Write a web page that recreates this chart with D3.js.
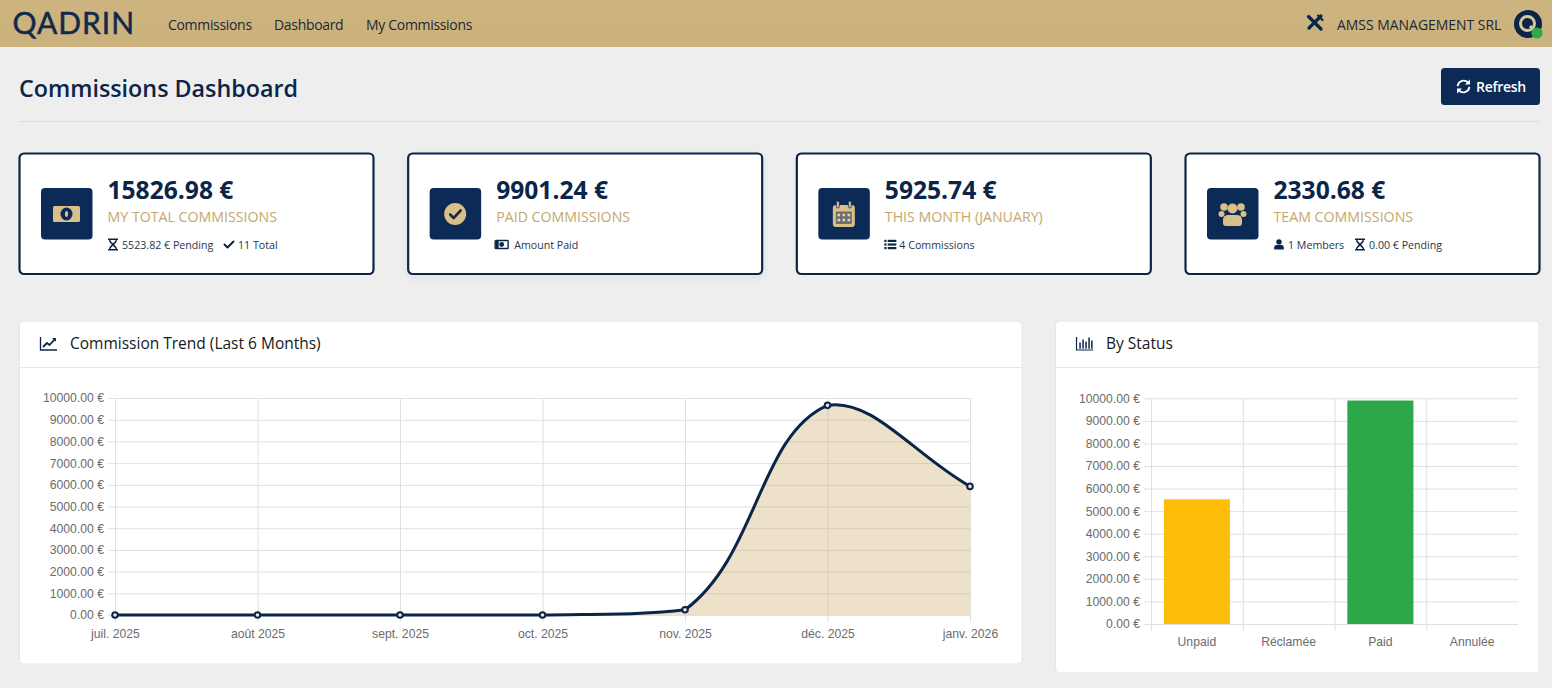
<!DOCTYPE html>
<html lang="fr">
<head>
<meta charset="utf-8">
<title>Commissions Dashboard</title>
<script src="https://cdn.jsdelivr.net/npm/d3@7"></script>
<style>
html,body{margin:0;padding:0;background:#eeeeee;overflow:hidden}
svg{display:block}
text{font-family:"Open Sans","Noto Sans",sans-serif}
.chartText text{font-family:"Liberation Sans",Arial,sans-serif;font-size:12.2px;fill:#6b6b6b}
</style>
</head>
<body>
<svg id="page" width="1552" height="688"></svg>
<script>
// ---------- data ----------
const navLinks = ["Commissions", "Dashboard", "My Commissions"];
const cardValues = ["15826.98 €", "9901.24 €", "5925.74 €", "2330.68 €"];
const cardLabels = ["MY TOTAL COMMISSIONS", "PAID COMMISSIONS", "THIS MONTH (JANUARY)", "TEAM COMMISSIONS"];
const cardIcons = ["money", "checkCircle", "calendar", "users"];
const cardNotes = [
  [["hourglass", "5523.82 € Pending"], ["check", "11 Total"]],
  [["moneySmall", "Amount Paid"]],
  [["list", "4 Commissions"]],
  [["user", "1 Members"], ["hourglass", "0.00 € Pending"]]
];
const trendMonths = ["juil. 2025", "août 2025", "sept. 2025", "oct. 2025", "nov. 2025", "déc. 2025", "janv. 2026"];
const trendValues = [0, 0, 0, 0, 240, 9661.24, 5925.74];
const statusLabels = ["Unpaid", "Réclamée", "Paid", "Annulée"];
const statusValues = [5523.82, 0, 9901.24, 0];
const statusColors = ["#fdbd08", "#e0e0e0", "#2ea64a", "#e0e0e0"];
const valueTicks = [0, 1000, 2000, 3000, 4000, 5000, 6000, 7000, 8000, 9000, 10000];

// ---------- palette ----------
const navy = "#0b2548", navyBox = "#0c2a56", gold = "#c4a76c", tan = "#d9bf8a", gridColor = "#e0e0e0";
const svg = d3.select("#page");

// ---------- defs ----------
const defs = svg.append("defs");
const navGrad = defs.append("linearGradient").attr("id", "navGrad").attr("x1", 0).attr("x2", 0).attr("y1", 0).attr("y2", 1);
navGrad.append("stop").attr("offset", 0).attr("stop-color", "#cdb480");
navGrad.append("stop").attr("offset", 1).attr("stop-color", "#cbb27c");
const shadow = defs.append("filter").attr("id", "soft").attr("x", "-5%").attr("y", "-15%").attr("width", "110%").attr("height", "130%");
shadow.append("feDropShadow").attr("dx", 0).attr("dy", 3).attr("stdDeviation", 5).attr("flood-color", "#000").attr("flood-opacity", 0.05);

// ---------- icons ----------
function icon(g, name, x, y, s, color, bg) {
  const n = g.append("g").attr("transform", `translate(${x},${y}) scale(${s})`);
  const P = (d) => n.append("path").attr("d", d).attr("fill", color);
  const S = (d, w) => n.append("path").attr("d", d).attr("fill", "none").attr("stroke", color).attr("stroke-width", w).attr("stroke-linecap", "round").attr("stroke-linejoin", "round");
  if (name === "money") {
    n.append("rect").attr("x", -13.5).attr("y", -8).attr("width", 27).attr("height", 16).attr("rx", 1.5).attr("fill", color);
    n.append("ellipse").attr("rx", 6).attr("ry", 6.5).attr("fill", bg);
    n.append("ellipse").attr("rx", 1.6).attr("ry", 3).attr("fill", color);
  } else if (name === "checkCircle") {
    n.append("circle").attr("r", 11).attr("fill", color);
    S("M-5,0.5 L-1.5,4 L5.5,-3.5", 2.6).attr("stroke", "#1f2a3a");
  } else if (name === "calendar") {
    n.append("rect").attr("x", -11).attr("y", -9).attr("width", 22).attr("height", 22).attr("rx", 3).attr("fill", color);
    n.append("rect").attr("x", -8).attr("y", -2.5).attr("width", 16).attr("height", 12.5).attr("rx", 1).attr("fill", "#0c2a56").attr("fill-opacity", .55);
    [-6, 6].forEach(c => { n.append("rect").attr("x", c - 1.5).attr("y", -13).attr("width", 3).attr("height", 7).attr("rx", 1.5).attr("fill", color).attr("stroke", bg).attr("stroke-width", .8); });
    [-5, 0, 5].forEach(cx => [1, 6].forEach(cy => n.append("rect").attr("x", cx - 1.3).attr("y", cy - 1.3).attr("width", 2.6).attr("height", 2.6).attr("fill", "#e6d3a8")));
  } else if (name === "users") {
    [[-8.5, -7, 3.8], [8.5, -7, 3.8], [-11, 0, 3], [11, 0, 3], [0, -5.5, 5]].forEach(c => n.append("circle").attr("cx", c[0]).attr("cy", c[1]).attr("r", c[2]).attr("fill", color));
    P("M-9.5,9 Q-9.5,12 -6.5,12 H6.5 Q9.5,12 9.5,9 V6 Q9.5,1 4,1 H-4 Q-9.5,1 -9.5,6 Z");
  } else if (name === "hourglass") {
    P("M-5,-6 H5 V-4.6 H4 C4,-2 1.6,-1 1.2,0 C1.6,1 4,2 4,4.6 H5 V6 H-5 V4.6 H-4 C-4,2 -1.6,1 -1.2,0 C-1.6,-1 -4,-2 -4,-4.6 H-5 Z");
    n.append("path").attr("d", "M-2.6,-4.6 H2.6 C2.4,-3 0.6,-2 0,-1.2 C-0.6,-2 -2.4,-3 -2.6,-4.6 Z M-2.6,4.6 C-2.4,3 -0.6,2 0,1.2 C0.6,2 2.4,3 2.6,4.6 Z").attr("fill", "#fff");
  } else if (name === "check") {
    S("M-4.5,0 L-1.5,3 L4.5,-3", 2);
  } else if (name === "moneySmall") {
    n.append("rect").attr("x", -6.5).attr("y", -4).attr("width", 13).attr("height", 8).attr("rx", .8).attr("fill", "none").attr("stroke", color).attr("stroke-width", 1.4);
    n.append("circle").attr("r", 2.4).attr("fill", color);
    n.append("rect").attr("x", -6).attr("y", -3.5).attr("width", 3).attr("height", 7).attr("fill", color);
  } else if (name === "list") {
    [-3.6, 0, 3.6].forEach(c => {
      n.append("rect").attr("x", -6).attr("y", c - 1.1).attr("width", 2.2).attr("height", 2.2).attr("fill", color);
      n.append("rect").attr("x", -2.6).attr("y", c - 1.1).attr("width", 8.6).attr("height", 2.2).attr("fill", color);
    });
  } else if (name === "user") {
    n.append("circle").attr("cy", -2.6).attr("r", 2.7).attr("fill", color);
    P("M-4.8,5 V3 Q-4.8,0.6 -2.4,0.6 H2.4 Q4.8,0.6 4.8,3 V5 Z");
  } else if (name === "tools") {
    S("M-6,-6 L6,6", 3.2); S("M6,-7 L-6,5", 3.2);
    S("M3,-7.5 L7.5,-3", 2.2);
    n.append("circle").attr("cx", -6.5).attr("cy", -6.5).attr("r", 1.6).attr("fill", color);
  } else if (name === "sync") {
    S("M-5.5,-1 A5.8,5.8 0 0 1 4.5,-3.6", 1.8); S("M5.5,1 A5.8,5.8 0 0 1 -4.5,3.6", 1.8);
    P("M6.2,-6.6 V-1.8 H1.4 Z"); P("M-6.2,6.6 V1.8 H-1.4 Z");
  } else if (name === "chartLine") {
    n.append("path").attr("d", "M-8,-6.5 V6.5 H8.5").attr("fill", "none").attr("stroke", color).attr("stroke-width", 1.3);
    S("M-5,3 L-1.5,-0.5 L1,1.5 L6,-4", 1.8);
    P("M3.6,-5.6 H7.4 V-1.8 Z");
  } else if (name === "chartBar") {
    n.append("path").attr("d", "M-8,-6.5 V6.5 H8.5").attr("fill", "none").attr("stroke", color).attr("stroke-width", 1.2);
    [[-5.2, -1], [-2.2, -4], [0.8, -2], [3.8, -6], [6.6, -3]].forEach(c => n.append("rect").attr("x", c[0]).attr("y", c[1]).attr("width", 1.5).attr("height", 5.2 - c[1]).attr("fill", color));
  }
  return n;
}

// ---------- nav bar ----------
svg.append("rect").attr("width", 1552).attr("height", 47).attr("fill", "url(#navGrad)");
svg.append("text").attr("x", 12.5).attr("y", 34).attr("font-size", 30).attr("letter-spacing", 1)
  .attr("stroke", "#12294d").attr("stroke-width", 0.5)
  .style("font-family", "Lato,sans-serif").attr("fill", "#12294d").text("QADRIN");
const navX = d3.scaleOrdinal().domain(navLinks).range([168, 274, 366]);
svg.append("g").selectAll("text").data(navLinks).join("text")
  .attr("x", d => navX(d)).attr("y", 29.5).attr("font-size", 14).attr("letter-spacing", -0.32).attr("fill", "#1c2634").text(d => d);
icon(svg, "tools", 1315, 23, 1, navy);
svg.append("text").attr("x", 1337).attr("y", 29.5).attr("font-size", 13.95).attr("fill", "#1c2634").text("AMSS MANAGEMENT SRL");
svg.append("circle").attr("cx", 1528).attr("cy", 24).attr("r", 14).attr("fill", navy);
svg.append("circle").attr("cx", 1527.5).attr("cy", 23.5).attr("r", 7).attr("fill", "none").attr("stroke", "#d8c69a").attr("stroke-width", 3);
svg.append("path").attr("d", d3.line()([[1530, 26], [1536, 33]])).attr("stroke", "#d8c69a").attr("stroke-width", 3);
svg.append("circle").attr("cx", 1537).attr("cy", 33).attr("r", 5.6).attr("fill", "#2ea84a");

// ---------- page header ----------
svg.append("text").attr("x", 19).attr("y", 96.5).attr("font-size", 23.3).attr("font-weight", 600).attr("fill", navy).text("Commissions Dashboard");
svg.append("rect").attr("x", 1441).attr("y", 68).attr("width", 99).attr("height", 37).attr("rx", 3.5).attr("fill", navyBox);
icon(svg, "sync", 1463.5, 86.5, 1.05, "#fff");
svg.append("text").attr("x", 1476).attr("y", 92).attr("font-size", 14).attr("letter-spacing", -0.3).attr("font-weight", 600).attr("fill", "#fff").text("Refresh");
svg.append("line").attr("x1", 19).attr("x2", 1540).attr("y1", 121.5).attr("y2", 121.5).attr("stroke", "#dddddd");

// ---------- KPI cards ----------
const cardX = d3.scalePoint().domain(d3.range(4)).range([19.5, 1185.5]);
const noteOffsets = [[0, 116], [0], [0], [0, 81]];
const cards = svg.append("g").selectAll("g").data(cardValues).join("g").attr("transform", (d, i) => `translate(${cardX(i)},153.5)`);
cards.append("rect").attr("width", 354).attr("height", 120.5).attr("rx", 4.5).attr("fill", "#fff").attr("stroke", navy).attr("stroke-width", 2.2).attr("filter", (d, i) => i === 1 ? "url(#soft)" : null);
cards.append("rect").attr("x", 21.5).attr("y", 34.5).attr("width", 51.5).attr("height", 51.5).attr("rx", 4).attr("fill", navyBox);
cards.each(function (d, i) {
  const g = d3.select(this);
  icon(g, cardIcons[i], 47, 60.5, 1, tan, navyBox);
  g.append("text").attr("x", 88).attr("y", 45.5).attr("font-size", 24.6).attr("font-weight", 700).attr("fill", navy).text(d);
  g.append("text").attr("x", 88).attr("y", 68).attr("font-size", 14.2).attr("fill", gold).text(cardLabels[i]);
  cardNotes[i].forEach((nt, j) => {
    const ox = 88 + noteOffsets[i][j];
    icon(g, nt[0], ox + 5.5, 91, 1, navy);
    g.append("text").attr("x", ox + (nt[0] === "moneySmall" ? 18 : 14.5)).attr("y", 95).attr("font-size", 10.65).attr("fill", "#26364a").text(nt[1]);
  });
});

// ---------- panels ----------
function panel(x, w, h, title, ic) {
  const g = svg.append("g").attr("transform", `translate(${x},321)`);
  g.append("rect").attr("width", w).attr("height", h).attr("rx", 4).attr("fill", "#fff").attr("stroke", "#e6e6e6");
  g.append("line").attr("x1", 0).attr("x2", w).attr("y1", 46.5).attr("y2", 46.5).attr("stroke", "#e6e6e6");
  icon(g, ic, 29, 22.5, 1, navy);
  g.append("text").attr("x", 50.5).attr("y", 28).attr("font-size", 15.5).attr("font-weight", 500).attr("fill", "#16181c").text(title);
}
panel(19.5, 1002.5, 343, "Commission Trend (Last 6 Months)", "chartLine");
panel(1055.5, 483.5, 352, "By Status", "chartBar");

// Chart.js-style spline as a d3 curve factory: tension 0.4, control points capped to the plot area
function splineCurve(top, bottom) {
  return function (ctx) {
    let pts, mode;
    const t = 0.4;
    const cap = v => Math.max(top, Math.min(bottom, v));
    return {
      areaStart() { mode = 0; },
      areaEnd() { mode = NaN; },
      lineStart() { pts = []; },
      point(x, y) { pts.push([+x, +y]); },
      lineEnd() {
        if (mode === 1) ctx.lineTo(pts[0][0], pts[0][1]); else ctx.moveTo(pts[0][0], pts[0][1]);
        const ctrl = pts.map((p, i) => {
          const a = pts[i - 1] || p, b = pts[i + 1] || p;
          const d01 = Math.hypot(p[0] - a[0], p[1] - a[1]), d12 = Math.hypot(b[0] - p[0], b[1] - p[1]);
          const sum = d01 + d12 || 1;
          const fa = t * d01 / sum, fb = t * d12 / sum;
          return {
            prev: [p[0] - fa * (b[0] - a[0]), cap(p[1] - fa * (b[1] - a[1]))],
            next: [p[0] + fb * (b[0] - a[0]), cap(p[1] + fb * (b[1] - a[1]))]
          };
        });
        for (let i = 1; i < pts.length; i++) ctx.bezierCurveTo(ctrl[i - 1].next[0], ctrl[i - 1].next[1], ctrl[i].prev[0], ctrl[i].prev[1], pts[i][0], pts[i][1]);
        if (mode === 1) ctx.closePath();
        mode = 1 - mode;
      }
    };
  };
}

function valueAxis(root, y, left, right) {
  const fmt = d => d3.format(".2f")(d) + " €";
  const ya = root.append("g").attr("transform", `translate(${left},0)`)
    .call(d3.axisLeft(y).tickValues(valueTicks).tickFormat(fmt).tickSize(7).tickPadding(4));
  ya.select(".domain").remove();
  ya.selectAll("line").attr("stroke", gridColor).attr("x2", right - left).attr("x1", -7);
  return ya;
}

// ---------- trend chart ----------
const tLeft = 115, tRight = 970, tTop = 398, tBase = 615;
const tx = d3.scalePoint().domain(trendMonths).range([tLeft, tRight]);
const ty = d3.scaleLinear().domain([0, 10000]).range([tBase, tTop]);
const trend = svg.append("g").attr("class", "chartText");
const tGrid = trend.append("g").attr("transform", `translate(0,${tBase})`)
  .call(d3.axisBottom(tx).tickSize(7).tickPadding(7));
tGrid.select(".domain").remove();
tGrid.selectAll("line").attr("stroke", gridColor).attr("y1", tTop - tBase).attr("y2", 7);
valueAxis(trend, ty, tLeft, tRight);
const trendRows = trendMonths.map((m, i) => ({ m, v: trendValues[i] }));
const trendCurve = splineCurve(tTop, tBase);
trend.append("path").datum(trendRows).attr("fill", "#c8a55f").attr("fill-opacity", 0.33)
  .attr("d", d3.area().x(d => tx(d.m)).y0(tBase).y1(d => ty(d.v)).curve(trendCurve));
trend.append("path").datum(trendRows).attr("fill", "none").attr("stroke", navy).attr("stroke-width", 3)
  .attr("d", d3.line().x(d => tx(d.m)).y(d => ty(d.v)).curve(trendCurve));
trend.append("g").selectAll("circle").data(trendRows).join("circle")
  .attr("cx", d => tx(d.m)).attr("cy", d => ty(d.v)).attr("r", 2.8)
  .attr("fill", "#dfe6ee").attr("stroke", navy).attr("stroke-width", 2);

// ---------- status chart ----------
const sLeft = 1151, sRight = 1518, sTop = 398.3, sBase = 624;
const sx = d3.scaleBand().domain(statusLabels).range([sLeft, sRight]).paddingInner(0.28).paddingOuter(0.14);
const sy = d3.scaleLinear().domain([0, 10000]).range([sBase, sTop]);
const status = svg.append("g").attr("class", "chartText");
const sGrid = status.append("g").attr("transform", `translate(0,${sBase})`)
  .call(d3.axisBottom(sx).tickSize(0).tickPadding(13));
sGrid.select(".domain").remove();
const step = sx.step();
status.append("g").selectAll("line").data(statusLabels).join("line")
  .attr("x1", d => sx(d) - step * 0.14 + 0.5).attr("x2", d => sx(d) - step * 0.14 + 0.5)
  .attr("y1", sTop).attr("y2", sBase + 7).attr("stroke", gridColor);
valueAxis(status, sy, sLeft, sRight);
status.append("g").selectAll("rect").data(statusLabels).join("rect")
  .attr("x", d => sx(d)).attr("width", sx.bandwidth())
  .attr("y", (d, i) => sy(statusValues[i])).attr("height", (d, i) => sBase - sy(statusValues[i]))
  .attr("fill", (d, i) => statusColors[i]);
</script>
</body>
</html>
